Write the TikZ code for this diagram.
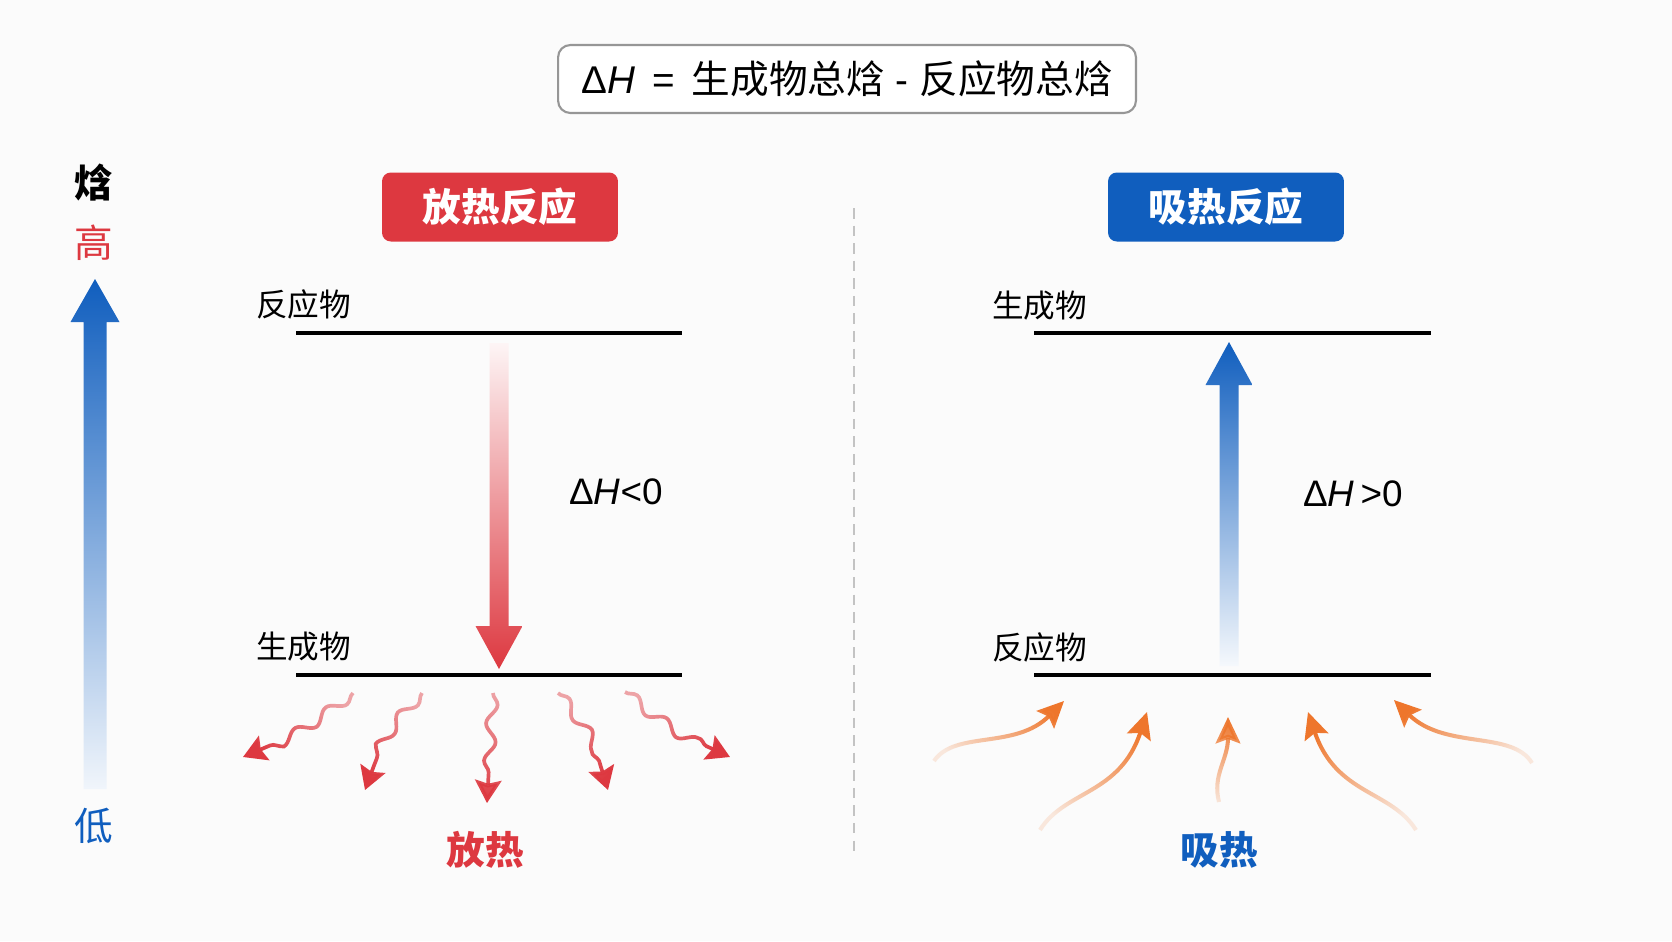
\documentclass[tikz,border=0pt]{standalone}
\usepackage{fontspec}
\setmainfont{Liberation Sans}
\newfontfamily\cjk{Noto Sans CJK SC}
\usetikzlibrary{arrows.meta, positioning, decorations.pathmorphing, fadings}
\definecolor{exored}{RGB}{221, 56, 64}
\definecolor{endoblue}{RGB}{16, 94, 190}
\definecolor{heatorange}{RGB}{238, 118, 44}
\definecolor{framegray}{RGB}{150, 150, 150}
\definecolor{dividergray}{RGB}{195, 195, 195}
\definecolor{pagewhite}{RGB}{251, 251, 251}
\tikzfading[name=fadein, left color=transparent!85, middle color=transparent!0, right color=transparent!0]
\tikzfading[name=fadesoft, left color=transparent!55, middle color=transparent!0, right color=transparent!0]
\tikzset{
  formulabox/.style={rectangle, rounded corners=7pt, draw=framegray, line width=1.2pt,
              fill=white, minimum width=11.56cm, minimum height=1.36cm,
              font=\fontsize{22}{26}\selectfont},
  tagbox/.style={rectangle, rounded corners=5pt, fill=#1, text=white,
              minimum width=4.72cm, minimum height=1.38cm,
              font=\cjk\bfseries\fontsize{22}{26}\selectfont},
  level/.style={line width=1.8pt},
  levellabel/.style={anchor=west, font=\cjk\fontsize{18}{22}\selectfont},
  deltalabel/.style={anchor=west, font=\fontsize{21}{25}\selectfont},
  heatlabel/.style={text=#1, font=\cjk\bfseries\fontsize{22}{26}\selectfont},
  divider/.style={draw=dividergray, line width=0.8pt, dash pattern=on 6pt off 4pt},
  wavy/.style={-{Stealth[length=13pt, width=15pt, inset=2pt]}, line width=2.1pt,
              draw=exored, path fading=fadesoft, fading angle=#1,
              decorate, decoration={snake, amplitude=3pt, segment length=0.75cm, post length=0.5cm}},
  curly/.style={-{Stealth[length=15pt, width=14pt, inset=2.5pt]}, line width=2.3pt,
              draw=heatorange, path fading=fadein, fading angle=#1},
}

\begin{document}
\begin{tikzpicture}[x=0.02cm, y=-0.02cm, node distance=0.5cm]
  \fill[pagewhite] (0,0) rectangle (1672,941);
  \useasboundingbox (0,0) rectangle (1672,941);

  \node[formulabox] (formula) at (847,79)
        {Δ{\itshape H}\, = \,{\cjk 生成物总焓} - {\cjk 反应物总焓}};

  \shade[top color=endoblue, bottom color=endoblue!6] (83.5,789) -- (83.5,322) -- (70.5,322)
        -- (95,279) -- (119.5,322) -- (106.5,322) -- (106.5,789) -- cycle;
  \node[heatlabel=black] (enth) at (94,183) {焓};
  \node[heatlabel=exored, font=\cjk\fontsize{22}{26}\selectfont] (high) at (94,243) {高};
  \node[heatlabel=endoblue, font=\cjk\fontsize{22}{26}\selectfont] (low) at (94,826) {低};

  \draw[divider] (854,208) -- (854,853);

  \node[tagbox=exored] (exo) at (500,207) {放热反应};
  \node[tagbox=endoblue] (endo) at (1226,207) {吸热反应};

  \coordinate (exoTopL) at (296,333);
  \coordinate (exoTopR) at (682,333);
  \coordinate (exoBotL) at (296,675);
  \coordinate (exoBotR) at (682,675);
  \draw[level] (exoTopL) -- (exoTopR);
  \draw[level] (exoBotL) -- (exoBotR);
  \node[levellabel] (exoReact) at (250,304) {反应物};
  \node[levellabel] (exoProd) at (250,647) {生成物};

  \shade[top color=exored!5, middle color=exored!55, bottom color=exored] (489.5,343) -- (508.5,343)
        -- (508.5,626) -- (522.5,626) -- (499,669) -- (475.5,626) -- (489.5,626) -- cycle;
  \node[deltalabel] (exoDelta) at (563,492) {Δ{\itshape H}<0};

  \draw[wavy=210] (353,693) to[bend left=8] (243,757);
  \draw[wavy=240] (422,693) to[bend right=12] (365,790);
  \draw[wavy=267] (493,693) -- (487,803);
  \draw[wavy=297] (558,693) to[bend left=12] (608,790);
  \draw[wavy=328] (625,692) to[bend right=8] (730,757);
  \node[heatlabel=exored] (release) at (485,850) {放热};

  \coordinate (endoTopL) at (1034,333);
  \coordinate (endoTopR) at (1431,333);
  \coordinate (endoBotL) at (1034,675);
  \coordinate (endoBotR) at (1431,675);
  \draw[level] (endoTopL) -- (endoTopR);
  \draw[level] (endoBotL) -- (endoBotR);
  \node[levellabel] (endoProd) at (986,306) {生成物};
  \node[levellabel] (endoReact) at (986,647) {反应物};

  \shade[top color=endoblue, bottom color=endoblue!4] (1219.5,666) -- (1219.5,385) -- (1205.5,385)
        -- (1229,342) -- (1252.5,385) -- (1238.5,385) -- (1238.5,666) -- cycle;
  \node[deltalabel] (endoDelta) at (1297,494) {Δ{\itshape H}\,>0};

  \draw[curly=30] (934,761) .. controls (955,730) and (1015,750) .. (1064,701);
  \draw[curly=53] (1040,830) .. controls (1065,790) and (1120,795) .. (1147,712);
  \draw[curly=85] (1219,802) .. controls (1212,775) and (1228,760) .. (1228,717);
  \draw[curly=126] (1416,830) .. controls (1391,790) and (1336,795) .. (1308,712);
  \draw[curly=150] (1532,763) .. controls (1512,730) and (1445,750) .. (1394,700);
  \node[heatlabel=endoblue] (absorb) at (1219,850) {吸热};
\end{tikzpicture}
\end{document}
